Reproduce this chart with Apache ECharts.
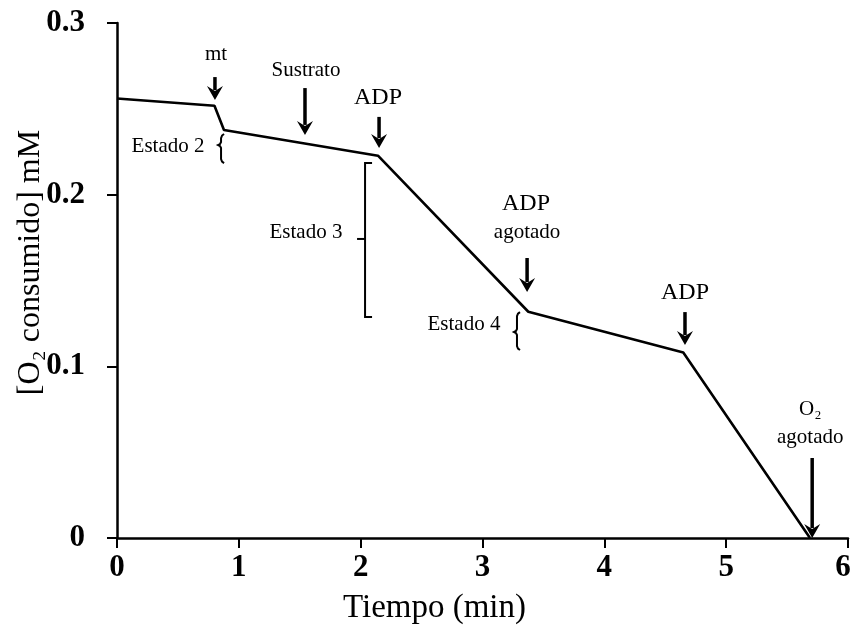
<!DOCTYPE html>
<html>
<head>
<meta charset="utf-8">
<script src="https://cdn.jsdelivr.net/npm/echarts@6/dist/echarts.min.js"></script>
<style>
  html, body { margin: 0; padding: 0; background: #fff; }
  #chart { width: 852px; height: 630px; }
</style>
</head>
<body>
<div id="chart"></div>
<script>
// Oxygen trace: time (min) vs. O2 consumed (mM)
const times = [0, 0.80, 0.878, 2.142, 3.376, 4.648, 5.688];
const o2Consumed = [0.256, 0.2518, 0.2377, 0.2227, 0.1318, 0.1080, 0];

// Axis tick labels
const xTickLabels = ['0', '1', '2', '3', '4', '5', '6'];
const yTickLabels = ['0', '0.1', '0.2', '0.3'];

// Addition arrows: x position, top of shaft, arrow tip (data units)
const arrowX   = [0.804, 1.543, 2.151, 3.366, 4.662, 5.706];
const arrowTop = [0.2685, 0.2621, 0.2453, 0.1631, 0.1316, 0.0466];
const arrowTip = [0.2551, 0.2348, 0.2272, 0.1433, 0.1124, 0];

// Respiratory state brackets: x, top, bottom, middle, kind (0 = brace, 1 = square)
const bracketX      = [0.854, 2.036, 3.283];
const bracketTop    = [0.2353, 0.2184, 0.1316];
const bracketBottom = [0.2184, 0.1287, 0.1095];
const bracketMid    = [0.2289, 0.1742, 0.1200];
const bracketKind   = [0, 1, 0];

// Annotation texts and their anchor points (data units)
const noteText = ['mt', 'Sustrato', 'ADP', 'Estado 2', 'Estado 3', 'ADP', 'agotado',
                  'Estado 4', 'ADP', 'O\u2082', 'agotado'];
const noteX = [0.813, 1.551, 2.142, 0.419, 1.551, 3.357, 3.366, 2.848, 4.662, 5.690, 5.690];
const noteY = [0.2814, 0.2726, 0.2563, 0.2283, 0.1777, 0.1946, 0.1777, 0.1241, 0.1427, 0.0746, 0.0588];

const SERIF = '"Liberation Serif", "Times New Roman", serif';

function noteSize(t) {
  return t === 'ADP' ? 24 : 21;
}

const chart = echarts.init(document.getElementById('chart'), null, { renderer: 'canvas' });

const option = {
  backgroundColor: '#ffffff',
  animation: false,
  grid: { left: 117, right: 4, top: 23, bottom: 92, containLabel: false, outerBoundsMode: 'none' },
  xAxis: {
    type: 'value',
    min: 0, max: 6, interval: 1,
    name: 'Tiempo (min)',
    nameLocation: 'middle',
    nameGap: 54,
    nameMoveOverlap: false,
    nameTextStyle: { fontFamily: SERIF, fontSize: 33, color: '#000', padding: [0, 96, 0, 0] },
    axisLine: { show: true, onZero: false, lineStyle: { color: '#000', width: 2.5 } },
    axisTick: { show: true, length: 10, lineStyle: { color: '#000', width: 2 } },
    axisLabel: {
      fontFamily: SERIF, fontWeight: 'bold', fontSize: 31, color: '#000', margin: 14,
      formatter: v => {
        const i = Math.round(v);
        return i === xTickLabels.length - 1 ? '{last|' + xTickLabels[i] + '}' : xTickLabels[i];
      },
      rich: {
        last: { fontFamily: SERIF, fontWeight: 'bold', fontSize: 31, color: '#000', padding: [0, 10, 0, 0] }
      }
    },
    splitLine: { show: false }
  },
  yAxis: {
    type: 'value',
    min: 0, max: 0.3, interval: 0.1,
    name: '[O\u2082 consumido] mM',
    nameLocation: 'middle',
    nameRotate: 90,
    nameGap: 70,
    nameMoveOverlap: false,
    nameTextStyle: { fontFamily: SERIF, fontSize: 32, color: '#000', padding: [0, 0, 0, 36] },
    axisLine: { show: true, onZero: false, lineStyle: { color: '#000', width: 2.5 } },
    axisTick: { show: true, length: 10, lineStyle: { color: '#000', width: 2 } },
    axisLabel: {
      fontFamily: SERIF, fontWeight: 'bold', fontSize: 31, color: '#000', margin: 32,
      formatter: v => yTickLabels[Math.round(v * 10)]
    },
    splitLine: { show: false }
  },
  series: [
    {
      name: 'O2',
      type: 'line',
      data: times.map((t, i) => [t, o2Consumed[i]]),
      symbol: 'none',
      lineStyle: { color: '#000', width: 2.6 },
      z: 3
    },
    {
      name: 'arrows',
      type: 'custom',
      clip: false,
      data: arrowX.map((x, i) => [x, arrowTop[i], arrowTip[i]]),
      renderItem: function (params, api) {
        const p0 = api.coord([api.value(0), api.value(1)]);
        const p1 = api.coord([api.value(0), api.value(2)]);
        const headH = 14, headW = 8;
        return {
          type: 'group',
          children: [
            {
              type: 'line',
              shape: { x1: p0[0], y1: p0[1], x2: p1[0], y2: p1[1] - headH + 4 },
              style: { stroke: '#000', lineWidth: 3.5 }
            },
            {
              type: 'polygon',
              shape: {
                points: [
                  [p1[0], p1[1]],
                  [p1[0] - headW, p1[1] - headH],
                  [p1[0], p1[1] - headH + 5],
                  [p1[0] + headW, p1[1] - headH]
                ]
              },
              style: { fill: '#000' }
            }
          ]
        };
      },
      z: 4
    },
    {
      name: 'brackets',
      type: 'custom',
      clip: false,
      data: bracketX.map((x, i) => [x, bracketTop[i], bracketBottom[i], bracketMid[i], bracketKind[i]]),
      renderItem: function (params, api) {
        const pt = api.coord([api.value(0), api.value(1)]);
        const pb = api.coord([api.value(0), api.value(2)]);
        const pm = api.coord([api.value(0), api.value(3)]);
        const x = pt[0];
        if (api.value(4) === 1) {
          return {
            type: 'group',
            children: [
              { type: 'polyline', shape: { points: [[x + 7, pt[1]], [x, pt[1]], [x, pb[1]], [x + 7, pb[1]]] },
                style: { stroke: '#000', lineWidth: 2, fill: null } },
              { type: 'line', shape: { x1: x - 8, y1: pm[1], x2: x, y2: pm[1] },
                style: { stroke: '#000', lineWidth: 2 } }
            ]
          };
        }
        const pts = [
          [x + 3, pt[1]], [x + 1, pt[1] + 1.5], [x, pt[1] + 4],
          [x, pm[1] - 3], [x - 1, pm[1] - 1], [x - 3, pm[1]],
          [x - 1, pm[1] + 1], [x, pm[1] + 3],
          [x, pb[1] - 4], [x + 1, pb[1] - 1.5], [x + 3, pb[1]]
        ];
        return {
          type: 'polyline',
          shape: { points: pts },
          style: { stroke: '#000', lineWidth: 2, fill: null }
        };
      },
      z: 4
    },
    {
      name: 'notes',
      type: 'custom',
      clip: false,
      data: noteX.map((x, i) => [x, noteY[i]]),
      renderItem: function (params, api) {
        const p = api.coord([api.value(0), api.value(1)]);
        const t = noteText[params.dataIndex];
        return {
          type: 'text',
          style: {
            text: t,
            x: p[0], y: p[1],
            textAlign: 'center',
            textVerticalAlign: 'middle',
            fontFamily: SERIF,
            fontSize: noteSize(t),
            fill: '#000'
          }
        };
      },
      z: 5
    }
  ]
};

chart.setOption(option);
</script>
</body>
</html>
